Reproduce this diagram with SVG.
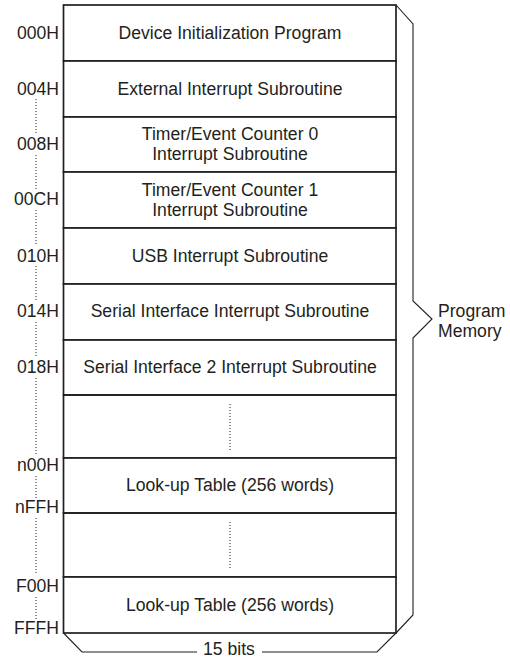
<svg xmlns="http://www.w3.org/2000/svg" width="510" height="659" viewBox="0 0 510 659">
<style>
text{font-family:"Liberation Sans",Arial,sans-serif;font-size:17.6px;fill:#231f20}
.c{text-anchor:middle}
.a{text-anchor:end}
.row{fill:#fff;stroke:#231f20;stroke-width:1.7}
.dot{stroke:#231f20;stroke-width:1;stroke-dasharray:1 2;fill:none}
.br{fill:none;stroke:#231f20;stroke-width:1.1}
</style>
<rect width="510" height="659" fill="#fff"/>
<g id="connectors">
<path class="dot" d="M36 99V135M36 155V190M36 210V246M36 266V302M36 322V358M36 378V455M36 476V498M36 518V575M36 597V620"/>
<path class="dot" d="M230 404V450M230 522V568"/>
</g>
<g id="row0"><rect class="row" x="63.5" y="5" width="332.5" height="56"/><text class="c" x="230" y="39">Device Initialization Program</text><text class="a" x="59" y="39">000H</text></g>
<g id="row1"><rect class="row" x="63.5" y="61" width="332.5" height="56"/><text class="c" x="230" y="95">External Interrupt Subroutine</text><text class="a" x="59" y="95">004H</text></g>
<g id="row2"><rect class="row" x="63.5" y="117" width="332.5" height="55"/><text class="c" x="230" y="140">Timer/Event Counter 0</text><text class="c" x="230" y="160">Interrupt Subroutine</text><text class="a" x="59" y="150">008H</text></g>
<g id="row3"><rect class="row" x="63.5" y="172" width="332.5" height="56"/><text class="c" x="230" y="196">Timer/Event Counter 1</text><text class="c" x="230" y="216">Interrupt Subroutine</text><text class="a" x="59" y="205">00CH</text></g>
<g id="row4"><rect class="row" x="63.5" y="228" width="332.5" height="56"/><text class="c" x="230" y="261.5">USB Interrupt Subroutine</text><text class="a" x="59" y="261.5">010H</text></g>
<g id="row5"><rect class="row" x="63.5" y="284" width="332.5" height="56"/><text class="c" x="230" y="317">Serial Interface Interrupt Subroutine</text><text class="a" x="59" y="317">014H</text></g>
<g id="row6"><rect class="row" x="63.5" y="340" width="332.5" height="55"/><text class="c" x="230" y="372.5">Serial Interface 2 Interrupt Subroutine</text><text class="a" x="59" y="372.5">018H</text></g>
<g id="row7"><rect class="row" x="63.5" y="395" width="332.5" height="63" fill-opacity="0"/></g>
<g id="row8"><rect class="row" x="63.5" y="458" width="332.5" height="55"/><text class="c" x="230" y="491">Look-up Table (256 words)</text><text class="a" x="59" y="471">n00H</text><text class="a" x="59" y="513">nFFH</text></g>
<g id="row9"><rect class="row" x="63.5" y="513" width="332.5" height="64" fill-opacity="0"/></g>
<g id="row10"><rect class="row" x="63.5" y="577" width="332.5" height="56"/><text class="c" x="230" y="610.5">Look-up Table (256 words)</text><text class="a" x="59" y="592">F00H</text><text class="a" x="59" y="634">FFFH</text></g>
<g id="program-memory"><path class="br" d="M396 5L413 24V301L432 319L413 338V615L396 633"/><text x="438" y="317">Program</text><text x="438" y="337">Memory</text></g>
<g id="width"><path class="br" d="M63.5 633L82 652H197M262 652H377L396 633"/><text class="c" x="229" y="655">15 bits</text></g>
</svg>
